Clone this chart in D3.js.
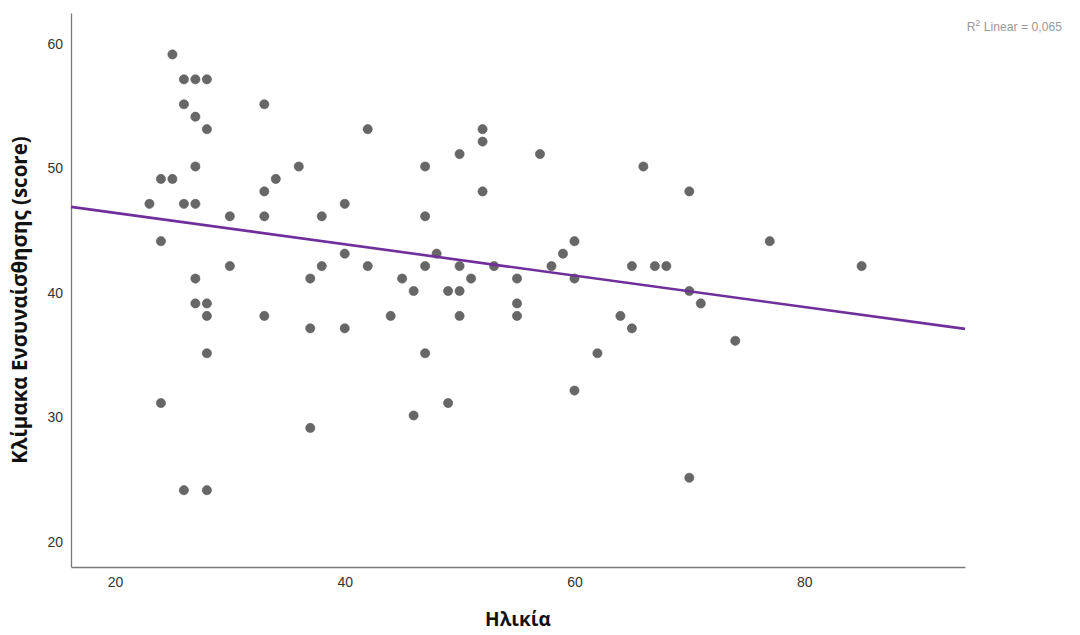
<!DOCTYPE html>
<html>
<head>
<meta charset="utf-8">
<script src="https://cdn.jsdelivr.net/npm/d3@7"></script>
<style>
  html, body { margin: 0; padding: 0; background: #fff; }
  svg { display: block; }
</style>
</head>
<body>
<svg id="chart" width="1080" height="635"></svg>
<script>
// Respondent age (years)
const ages = [
  25, 26, 27, 28, 26, 27, 28, 27, 24, 25, 23, 26, 27, 24, 27, 27, 28, 28, 28, 24, 26, 28,
  33, 30, 30, 33, 34, 33, 33, 36, 37, 38, 38, 37, 37, 40, 40, 40, 42, 42, 44, 45, 46, 46,
  47, 47, 47, 47, 48, 49, 49, 50, 50, 50, 50, 51, 52, 52, 52, 53, 55, 55, 55, 57, 58, 59,
  60, 60, 60, 62, 64, 65, 65, 66, 67, 68, 70, 70, 70, 71, 74, 77, 85
];
// Empathy scale score for each respondent
const scores = [
  59, 57, 57, 57, 55, 54, 53, 50, 49, 49, 47, 47, 47, 44, 41, 39, 39, 38, 35, 31, 24, 24,
  55, 46, 42, 48, 49, 46, 38, 50, 41, 46, 42, 37, 29, 47, 43, 37, 53, 42, 38, 41, 40, 30,
  50, 46, 42, 35, 43, 40, 31, 51, 42, 40, 38, 41, 53, 52, 48, 42, 41, 39, 38, 51, 42, 43,
  44, 41, 32, 35, 38, 42, 37, 50, 42, 42, 48, 40, 25, 39, 36, 44, 42
];
// Fitted linear trend: score = fitIntercept + fitSlope * age
const fitIntercept = 48.79;
const fitSlope = -0.1259;
const xTicks = [20, 40, 60, 80];
const yTicks = [20, 30, 40, 50, 60];
const xTitle = "Ηλικία";
const yTitle = "Κλίμακα Ενσυναίσθησης (score)";
const fitLabel = "Linear = 0,065";

const points = ages.map((a, i) => ({ age: a, score: scores[i] }));

const svg = d3.select("#chart");
const plotLeft = 71, plotRight = 965, plotTop = 13, plotBottom = 567;

const x = d3.scaleLinear().domain([16.17, 94.0]).range([plotLeft, plotRight]);
const y = d3.scaleLinear().domain([17.83, 62.33]).range([plotBottom, plotTop]);

// Axes (lines and labels only, no tick marks)
const xAxis = svg.append("g")
  .attr("transform", `translate(0,${plotBottom})`)
  .call(d3.axisBottom(x).tickValues(xTicks).tickSize(0).tickPadding(10).tickFormat(d3.format("d")));
xAxis.select(".domain").attr("stroke", "#7a7a7a").attr("stroke-width", 1.3);

const yAxis = svg.append("g")
  .attr("transform", `translate(${plotLeft},0)`)
  .call(d3.axisLeft(y).tickValues(yTicks).tickSize(0).tickPadding(8).tickFormat(d3.format("d")));
yAxis.select(".domain").attr("stroke", "#7a7a7a").attr("stroke-width", 1.3);
yAxis.selectAll(".tick text").attr("dy", "0.46em");

svg.selectAll(".tick text")
  .attr("font-family", "Liberation Sans, Arial, sans-serif")
  .attr("font-size", 14)
  .attr("fill", "#333");

// Scatter points
svg.append("g")
  .selectAll("circle")
  .data(points)
  .join("circle")
  .attr("cx", d => x(d.age))
  .attr("cy", d => y(d.score))
  .attr("r", 4.6)
  .attr("fill", "#676767")
  .attr("stroke", "#5a5a5a")
  .attr("stroke-width", 0.6);

// Regression line across the full x range
const [x0, x1] = x.domain();
svg.append("line")
  .attr("x1", x(x0)).attr("y1", y(fitIntercept + fitSlope * x0))
  .attr("x2", x(x1)).attr("y2", y(fitIntercept + fitSlope * x1))
  .attr("stroke", "#70309c")
  .attr("stroke-width", 2.6);

// Fit annotation
const note = svg.append("text")
  .attr("x", 1062).attr("y", 31)
  .attr("text-anchor", "end")
  .attr("font-family", "Liberation Sans, Arial, sans-serif")
  .attr("font-size", 12.2)
  .attr("fill", "#999");
note.append("tspan").text("R");
note.append("tspan").attr("dy", -5).attr("font-size", 8.5).text("2");
note.append("tspan").attr("dy", 5).text(" " + fitLabel);

// Axis titles
svg.append("text")
  .attr("x", 518).attr("y", 626)
  .attr("text-anchor", "middle")
  .attr("font-family", "Open Sans, sans-serif")
  .attr("font-weight", "bold")
  .attr("font-size", 19)
  .attr("fill", "#111")
  .text(xTitle);

svg.append("text")
  .attr("transform", "translate(27,300) rotate(-90)")
  .attr("text-anchor", "middle")
  .attr("font-family", "Open Sans, sans-serif")
  .attr("font-weight", "bold")
  .attr("font-size", 20.5)
  .attr("fill", "#111")
  .text(yTitle);
</script>
</body>
</html>
